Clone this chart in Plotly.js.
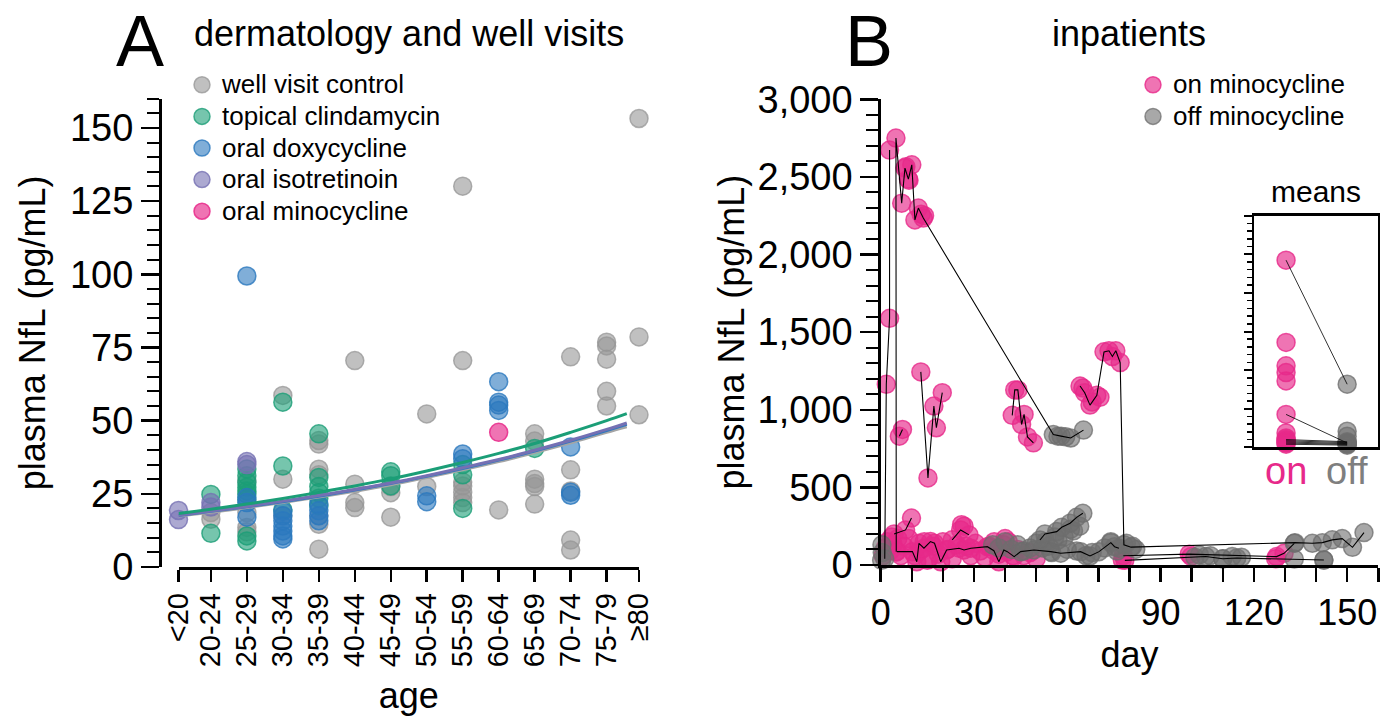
<!DOCTYPE html>
<html><head><meta charset="utf-8">
<script src="https://cdn.plot.ly/plotly-3.0.1.min.js"></script>
<style>html,body{margin:0;padding:0;background:#fff}#chart{width:1380px;height:716px}</style>
</head><body><div id="chart"></div>
<script>
// ---------------- Panel A data ----------------
const ageLabels = ['<20','20-24','25-29','30-34','35-39','40-44','45-49','50-54','55-59','60-64','65-69','70-74','75-79','≥80'];
const ageMid = [17.5,22,27,32,37,42,47,52,57,62,67,72,77,81.5];

const wellIdx = [1,1, 2,2,2,2, 3,3,3, 4,4,4,4,4,4,4, 5,5,5,5, 6,6,6, 7,7, 8,8,8,8,8,8,8, 9, 10,10,10,10,10,10, 11,11,11,11,11, 12,12,12,12,12, 13,13,13];
const wellNfl = [18.6,16.3, 29.5,18.6,13.5,12.0, 58.6,30.0,17.5, 43.2,42.0,33.4,31.5,17.5,14.6,6.1, 70.5,28.3,22.0,20.3, 27.5,25.4,17.0, 52.3,27.5, 130.1,70.5,29.0,27.7,25.5,23.7,22.0, 19.5, 45.5,43.0,30.0,28.5,27.5,21.5, 71.8,33.2,26.0,9.2,5.8, 76.8,75.5,71.0,60.0,55.0, 153.2,78.6,52.0];

const clindaIdx = [1,1, 2,2,2,2,2,2,2,2,2, 3,3,3, 4,4,4,4,4,4, 6,6,6, 8,8,8, 10];
const clindaNfl = [24.8,11.5, 33.5,31.2,28.9,27.2,26.0,24.9,23.0,10.6,8.9, 56.3,34.5,19.5, 45.5,30.6,27.5,25.4,23.5,21.0, 32.5,31.2,27.7, 35.0,31.5,20.0, 40.5];

const doxyIdx = [2,2,2,2, 3,3,3,3,3,3,3, 4,4,4,4, 7,7, 8,8, 9,9,9,9, 11,11,11];
const doxyNfl = [99.4,23.7,22.0,17.0, 19.0,17.5,15.8,14.0,12.3,10.6,9.6, 21.4,19.2,17.5,15.8, 24.3,22.3, 38.6,37.0, 63.3,56.3,55.3,53.5, 41.0,25.5,24.5];

const isoIdx = [0,0,1,1,2,2];
const isoNfl = [19.3,16.2,22.0,20.5,36.0,35.0];

const minoIdx = [9];
const minoNfl = [46.0];

// fitted curves
const fitAge = [17.5,22,27,32,37,42,47,52,57,62,67,72,77,79.8];
const fitWell = [17.4,18.7,20.3,22.0,23.9,25.9,28.1,30.6,33.2,36.0,39.1,42.4,46.0,47.9];
const fitClinda = [18.3,19.7,21.5,23.4,25.5,27.7,30.1,32.8,35.7,38.8,42.2,46.0,50.0,52.4];
const fitDoxy = [17.6,19.0,20.6,22.3,24.2,26.3,28.5,31.0,33.6,36.5,39.6,43.0,46.6,48.7];
const fitIso = [17.7,19.1,20.7,22.5,24.4,26.5,28.7,31.2,33.9,36.7,39.9,43.3,47.0,49.2];

// ---------------- Panel B data (patients) ----------------
const p1Day = [5.0,4.9,6.75,7.8,8.9,10.0,11.0,12.1,13.7,55.5,58.0,61.1,65.2];
const p1Nfl = [86,2750,2331,2557,2486,2578,2223,2299,2235,840,830,818,869];
const p1On  = [1,1,1,1,1,1,1,1,1,0,0,0,0];

const p2Day = [1.3,1.8,2.85,2.85];
const p2Nfl = [40,1164,1589,2673];
const p2On  = [0,1,1,1];

const p3Day = [5.2,10.2,11.6,12.3,13.9,16.0,17.3,19.3,21.2,25.2,26.8,29.0,34.3,36.4,38.0,39.6,40.7,42.9,45.0,49.3,54.7,57.9,64.3,67.3,70.2,74.0,75.2,76.6];
const p3Nfl = [86,86,21,140,108,151,140,21,97,108,97,108,118,92,21,97,86,54,86,97,86,76,86,58,86,144,118,108];
const p3On  = [1,1,1,1,1,1,1,1,1,1,1,1,1,1,1,1,1,1,0,0,0,0,0,0,0,0,0,0];

const p4Day = [4.3,8.0,9.9];
const p4Nfl = [200,226,302];
const p4On  = [1,1,1];

const p5Day = [23.0,25.7,28.4];
const p5Nfl = [162,226,194];
const p5On  = [1,1,1];

const p6Day = [12.9,15.2,17.1,17.9,19.8];
const p6Nfl = [1244,561,1024,884,1110];
const p6On  = [1,1,1,1,1];

const p7Day = [6.0,7.0];
const p7Nfl = [830,873];
const p7On  = [1,1];

const p8Day = [42.3,43.1,44.1,45.3,46.1,47.2,49.1];
const p8Nfl = [964,1128,1128,905,970,825,787];
const p8On  = [1,1,1,1,1,1,1];

const p9Day = [64.1,65.6,67.3,69.5,71.8,73.4,74.5,75.6,77.0,78.2,80.5,133.2,138.8,142.0,145.2,148.4,151.7,155.4];
const p9Nfl = [1153,1110,1030,1093,1373,1380,1343,1380,1304,130,115,144,140,144,162,170,114,209];
const p9On  = [1,1,1,1,1,1,1,1,1,0,0,0,0,0,0,0,0,0];

const p10Day = [51.2,52.8,56.6,58.2,60.9,63.0,65.0];
const p10Nfl = [161,200,215,243,269,307,333];
const p10On  = [0,0,0,0,0,0,0];

const p11Day = [78.0,99.2,127.3,129.7,133.0];
const p11Nfl = [60,70,54,75,140];
const p11On  = [1,1,1,1,0];

const p12Day = [78.5,101.0,104.5,110.0,114.5,142.5];
const p12Nfl = [30,50,55,40,45,32];
const p12On  = [1,0,0,0,0,0];

// single samples (no connecting line drawn)
const singleOnDay = [0.8,1.5,2.2,3.0,3.5,4.0,5.5,6.5,7.5,9.0,11.0,12.5,14.0,15.5,17.0,18.5,20.0,21.5,23.0,24.5,26.0,27.5,29.0,30.5,32.0,33.5,35.0,36.5,38.0,39.5,41.0,42.5,44.0,46.0,48.0,50.0,8.1,13.0,14.1,15.0,26.8,40.0,77.7,99.8,127.0,9.1,65.0,68.0,70.5];
const singleOnNfl = [60,110,150,90,180,130,170,60,120,170,60,90,150,40,120,70,150,100,40,130,260,120,60,140,90,50,120,150,70,130,150,60,100,60,80,40,2566,2260,2250,30,250,170,32,55,40,2479,1140,1050,1080];
const singleOffDay = [0.3,0.5,0.4,36,38,40,42,44,46,48,50,52,54,55,57,59,60,62,63,66,68,72,74,76,79,81,82,102.5,106,110,113,116,133,142.5,57,59.5,53,56,61,64];
const singleOffNfl = [30,80,130,130,110,150,100,130,90,110,140,110,120,80,160,180,100,220,90,60,80,110,150,90,140,120,100,65,60,40,55,50,38,32,830,826,150,180,230,250];

// means inset (per patient: mean on / mean off)
const meanOn  = [2424,1359,1055,968,860,426,186,121,100,85,70,55,40,null,null];
const meanOff = [817,null,null,null,null,56,null,null,72,60,48,38,28,208,143];

// ---------------- styling ----------------
const FONT = 'Liberation Sans, Arial, sans-serif';
const W = 1380, H = 716;
const px = x => x / W;
const py = y => 1 - y / H;

const cWell = 'rgba(150,150,150,0.6)', lWell = 'rgba(150,150,150,0.75)';
const cClin = 'rgba(27,158,119,0.6)', lClin = 'rgba(27,158,119,0.8)';
const cDoxy = 'rgba(43,120,190,0.6)', lDoxy = 'rgba(43,120,190,0.8)';
const cIso = 'rgba(117,112,179,0.6)', lIso = 'rgba(117,112,179,0.8)';
const cMino = 'rgba(231,41,138,0.65)', lMino = 'rgba(231,41,138,0.85)';
const cOn = 'rgba(231,41,138,0.65)', lOn = 'rgba(231,41,138,0.8)';
const cOff = 'rgba(110,110,110,0.6)', lOff = 'rgba(110,110,110,0.75)';

const traces = [];
function groupTrace(name, idx, vals, fill, line) {
  return {type:'scatter', mode:'markers', name:'<span style="font-size:26px">'+name+'</span>',
    x: idx.map(i => ageMid[i]), y: vals, xaxis:'x', yaxis:'y', legend:'legend', cliponaxis:false,
    marker:{size:18, color:fill, line:{color:line, width:1.5}}, hoverinfo:'x+y'};
}
traces.push(groupTrace('well visit control', wellIdx, wellNfl, cWell, lWell));
traces.push(groupTrace('topical clindamycin', clindaIdx, clindaNfl, cClin, lClin));
traces.push(groupTrace('oral doxycycline', doxyIdx, doxyNfl, cDoxy, lDoxy));
traces.push(groupTrace('oral isotretinoin', isoIdx, isoNfl, cIso, lIso));
traces.push(groupTrace('oral minocycline', minoIdx, minoNfl, cMino, lMino));

function fitTrace(vals, color) {
  return {type:'scatter', mode:'lines', x: fitAge, y: vals, xaxis:'x', yaxis:'y', showlegend:false,
    line:{color:color, width:3, shape:'spline'}, hoverinfo:'skip', cliponaxis:false};
}
traces.push(fitTrace(fitWell, 'rgb(165,165,165)'));
traces.push(fitTrace(fitDoxy, 'rgb(50,120,190)'));
traces.push(fitTrace(fitIso, 'rgb(117,112,179)'));
traces.push(fitTrace(fitClinda, 'rgb(27,158,119)'));

// Panel B
const patients = [
  [p1Day,p1Nfl,p1On],[p2Day,p2Nfl,p2On],[p3Day,p3Nfl,p3On],[p4Day,p4Nfl,p4On],
  [p5Day,p5Nfl,p5On],[p6Day,p6Nfl,p6On],[p7Day,p7Nfl,p7On],[p8Day,p8Nfl,p8On],
  [p9Day,p9Nfl,p9On],[p10Day,p10Nfl,p10On],[p11Day,p11Nfl,p11On],[p12Day,p12Nfl,p12On]
];
const onX = singleOnDay.slice(), onY = singleOnNfl.slice();
const offX = singleOffDay.slice(), offY = singleOffNfl.slice();
patients.forEach(([d, v, s]) => {
  d.forEach((dd, i) => { if (s[i]) { onX.push(dd); onY.push(v[i]); } else { offX.push(dd); offY.push(v[i]); } });
});
traces.push({type:'scatter', mode:'markers', name:'<span style="font-size:26px">on minocycline</span>', x:onX, y:onY,
  xaxis:'x2', yaxis:'y2', legend:'legend2', legendrank:1, cliponaxis:false,
  marker:{size:18, color:cOn, line:{color:lOn, width:1.5}}});
traces.push({type:'scatter', mode:'markers', name:'<span style="font-size:26px">off minocycline</span>', x:offX, y:offY,
  xaxis:'x2', yaxis:'y2', legend:'legend2', legendrank:2, cliponaxis:false,
  marker:{size:18, color:cOff, line:{color:lOff, width:1.5}}});
patients.forEach(([d, v]) => {
  traces.push({type:'scatter', mode:'lines', x:d, y:v, xaxis:'x2', yaxis:'y2', showlegend:false,
    line:{color:'#000', width:1.1}, hoverinfo:'skip', cliponaxis:false});
});

// inset
const insetOnX = [], insetOnY = [], insetOffX = [], insetOffY = [];
meanOn.forEach((v, i) => {
  if (v !== null) { insetOnX.push(0); insetOnY.push(v); }
  if (meanOff[i] !== null) { insetOffX.push(1); insetOffY.push(meanOff[i]); }
});
traces.push({type:'scatter', mode:'markers', x:insetOnX, y:insetOnY, xaxis:'x3', yaxis:'y3', showlegend:false,
  marker:{size:18, color:cOn, line:{color:lOn, width:1.5}}, cliponaxis:false});
traces.push({type:'scatter', mode:'markers', x:insetOffX, y:insetOffY, xaxis:'x3', yaxis:'y3', showlegend:false,
  marker:{size:18, color:cOff, line:{color:lOff, width:1.5}}, cliponaxis:false});
meanOn.forEach((v, i) => {
  if (v !== null && meanOff[i] !== null) {
    traces.push({type:'scatter', mode:'lines', x:[0,1], y:[v, meanOff[i]], xaxis:'x3', yaxis:'y3', showlegend:false,
      line:{color:'#000', width:0.8}, hoverinfo:'skip', cliponaxis:false});
  }
});

const axBase = {showline:true, linecolor:'#000', linewidth:2.5, ticks:'outside', tickcolor:'#000', tickwidth:2.5,
  zeroline:false, showgrid:false, tickfont:{family:FONT, size:38, color:'#000'}, fixedrange:true};

function ann(text, x, y, size, color) {
  return {text:text, x:px(x), y:py(y), xref:'paper', yref:'paper', xanchor:'center', yanchor:'middle',
    showarrow:false, font:{family:FONT, size:size, color:color || '#000'}};
}

const layout = {
  width:W, height:H, margin:{l:0, r:0, t:0, b:0}, paper_bgcolor:'#fff', plot_bgcolor:'rgba(0,0,0,0)',
  font:{family:FONT, color:'#000'}, showlegend:true,
  xaxis: Object.assign({}, axBase, {domain:[px(178.5), px(639)], range:[17.5,81.5], anchor:'y',
    tickmode:'array', tickvals:ageMid, ticktext:ageLabels, tickangle:-90, ticklen:12,
    tickfont:{family:FONT, size:29, color:'#000'},
    title:{text:'age', font:{family:FONT, size:36, color:'#000'}, standoff:28}}),
  yaxis: Object.assign({}, axBase, {domain:[py(567), py(98.6)], range:[0,160], anchor:'free', position:px(160),
    tickmode:'linear', tick0:0, dtick:25, ticklen:18,
    minor:{tickmode:'linear', tick0:0, dtick:5, ticks:'outside', ticklen:12, tickwidth:2, tickcolor:'#000', showgrid:false},
    title:{text:'plasma NfL (pg/mL)', font:{family:FONT, size:36, color:'#000'}, standoff:12}}),
  xaxis2: Object.assign({}, axBase, {domain:[px(880.7), px(1378.3)], range:[0,160], anchor:'y2',
    tickmode:'linear', tick0:0, dtick:30, ticklen:14, tickfont:{family:FONT, size:36, color:'#000'},
    minor:{tickmode:'linear', tick0:0, dtick:10, ticks:'outside', ticklen:14, tickwidth:2.5, tickcolor:'#000', showgrid:false},
    title:{text:'day', font:{family:FONT, size:36, color:'#000'}, standoff:10}}),
  yaxis2: Object.assign({}, axBase, {domain:[py(565), py(99.3)], range:[0,3000], anchor:'x2',
    tickmode:'linear', tick0:0, dtick:500, ticklen:18, tickformat:',',
    minor:{tickmode:'linear', tick0:0, dtick:100, ticks:'outside', ticklen:12, tickwidth:2, tickcolor:'#000', showgrid:false},
    title:{text:'plasma NfL (pg/mL)', font:{family:FONT, size:36, color:'#000'}, standoff:2}}),
  xaxis3: {domain:[px(1254.3), px(1378.3)], range:[-0.52,1.51], anchor:'y3', showline:true, mirror:true,
    linecolor:'#000', linewidth:2.5, ticks:'', showticklabels:false, showgrid:false, zeroline:false, fixedrange:true},
  yaxis3: {domain:[py(447.3), py(215.7)], range:[0,3000], anchor:'x3', showline:true, mirror:true,
    linecolor:'#000', linewidth:2.5, ticks:'outside', ticklen:8, tickwidth:2, tickcolor:'#000',
    tickmode:'linear', tick0:0, dtick:500, showticklabels:false, showgrid:false, zeroline:false, fixedrange:true,
    minor:{tickmode:'linear', tick0:0, dtick:100, ticks:'outside', ticklen:5, tickwidth:1.5, tickcolor:'#000', showgrid:false}},
  legend: {x:px(182), y:py(64), xanchor:'left', yanchor:'top', bgcolor:'rgba(0,0,0,0)',
    font:{family:FONT, size:22, color:'#000'}, itemclick:false, itemdoubleclick:false},
  legend2: {x:px(1133), y:py(64), xanchor:'left', yanchor:'top', bgcolor:'rgba(0,0,0,0)',
    font:{family:FONT, size:22, color:'#000'}, itemclick:false, itemdoubleclick:false},
  annotations: [
    ann('A', 140, 41, 72),
    ann('dermatology and well visits', 409, 34, 36),
    ann('B', 869, 41, 72),
    ann('inpatients', 1129, 34, 36),
    ann('means', 1316, 192, 30),
    {text:'on', x:0, xref:'x3', y:py(471), yref:'paper', xanchor:'center', yanchor:'middle', showarrow:false, font:{family:FONT, size:38, color:'#e7298a'}},
    {text:'off', x:1, xref:'x3', y:py(471), yref:'paper', xanchor:'center', yanchor:'middle', showarrow:false, font:{family:FONT, size:38, color:'#7f7f7f'}}
  ]
};

Plotly.newPlot('chart', traces, layout, {staticPlot:true, displayModeBar:false});
</script>
</body></html>
